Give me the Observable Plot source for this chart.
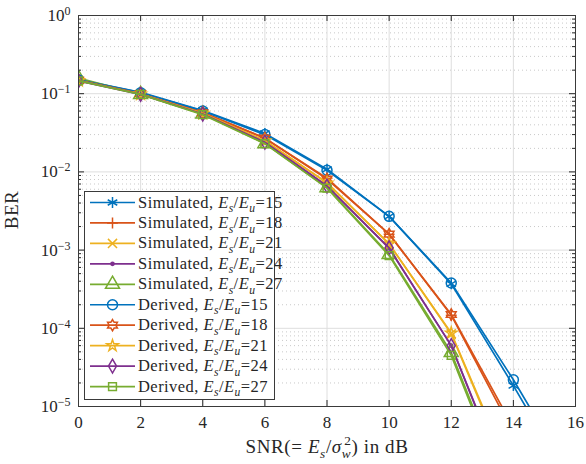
<!DOCTYPE html>
<html><head><meta charset="utf-8">
<script src="https://cdn.jsdelivr.net/npm/d3@7"></script>
<script src="https://cdn.jsdelivr.net/npm/@observablehq/plot@0.6"></script>
<style>
body{margin:0;background:#fff;}
#wrap{width:586px;height:464px;}
</style></head><body><div id="wrap"></div>
<script>
// ---- data ----
const snr = [0, 2, 4, 6, 8, 10, 12, 14, 16];
const esEu = [15, 18, 21, 24, 27];
const sim15 = [0.152, 0.104, 0.061, 0.031, 0.0108, 0.0027, 3.7e-4, 1.85e-5, 8e-7];
const sim18 = [0.149, 0.101, 0.058, 0.027, 0.0083, 0.0016, 1.47e-4, 4.6e-6];
const sim21 = [0.148, 0.100, 0.056, 0.025, 0.0073, 0.0012, 8.5e-5, 1.1e-6];
const sim24 = [0.147, 0.099, 0.055, 0.024, 0.0066, 0.00105, 6.0e-5, 6.0e-7];
const sim27 = [0.158, 0.098, 0.055, 0.023, 0.0063, 0.00088, 4.9e-5, 5.0e-7];
const der15 = [0.150, 0.103, 0.060, 0.030, 0.0105, 0.0027, 3.8e-4, 2.2e-5, 1.0e-6];
const der18 = [0.148, 0.100, 0.057, 0.027, 0.0081, 0.0016, 1.5e-4, 5.4e-6];
const der21 = [0.147, 0.099, 0.056, 0.025, 0.0072, 0.0012, 8.7e-5, 1.2e-6];
const der24 = [0.146, 0.098, 0.055, 0.024, 0.0066, 0.00107, 6.0e-5, 6.5e-7];
const der27 = [0.146, 0.098, 0.054, 0.023, 0.0062, 0.00085, 4.5e-5, 4.5e-7];
const xTicks = [0, 2, 4, 6, 8, 10, 12, 14, 16];
const yTicks = [1e-5, 1e-4, 1e-3, 1e-2, 1e-1, 1];
const yMinor = yTicks.slice(0, -1).flatMap(d => [2,3,4,5,6,7,8,9].map(m => m * d));
const colors = ["#0072BD", "#D95319", "#EDB120", "#7E2F8E", "#77AC30"];

// ---- marker shapes ----
const hexagram = {draw(ctx, size) {
  const R = Math.sqrt(size) * 0.64, r = R / Math.sqrt(3);
  for (let i = 0; i < 12; i++) {
    const a = -Math.PI / 2 + i * Math.PI / 6, rr = i % 2 ? r : R;
    const x = rr * Math.cos(a), y = rr * Math.sin(a);
    i ? ctx.lineTo(x, y) : ctx.moveTo(x, y);
  }
  ctx.closePath();
}};

const series = [
  {kind: "Simulated", k: 0, values: sim15, symbol: d3.symbolAsterisk, r: 5.2, fill: "none"},
  {kind: "Simulated", k: 1, values: sim18, symbol: d3.symbolPlus, r: 3.6, fill: "none"},
  {kind: "Simulated", k: 2, values: sim21, symbol: d3.symbolTimes, r: 4.2, fill: "none"},
  {kind: "Simulated", k: 3, values: sim24, symbol: d3.symbolCircle, r: 1.6, fill: "fill"},
  {kind: "Simulated", k: 4, values: sim27, symbol: d3.symbolTriangle, r: 5.2, fill: "none"},
  {kind: "Derived", k: 0, values: der15, symbol: d3.symbolCircle, r: 5, fill: "none"},
  {kind: "Derived", k: 1, values: der18, symbol: hexagram, r: 5, fill: "none"},
  {kind: "Derived", k: 2, values: der21, symbol: d3.symbolStar, r: 3.6, fill: "none"},
  {kind: "Derived", k: 3, values: der24, symbol: d3.symbolDiamond, r: 4.2, fill: "none"},
  {kind: "Derived", k: 4, values: der27, symbol: d3.symbolSquare, r: 4.4, fill: "none"},
];

const W = 586, H = 464, mt = 15, mr = 11, mb = 58, ml = 78;
const innerH = H - mt - mb, innerW = W - ml - mr;
const ink = "#262626";

const marks = [
  Plot.ruleY(yMinor, {y: d => d, stroke: "#c9c9c9", strokeDasharray: "1,3", strokeWidth: 1}),
  Plot.gridX(xTicks, {stroke: "#dedede", strokeOpacity: 1, strokeWidth: 1}),
  Plot.gridY(yTicks, {stroke: "#dedede", strokeOpacity: 1, strokeWidth: 1}),
];
for (const s of series) {
  const data = s.values.map((v, i) => ({x: snr[i], y: v}));
  const c = colors[s.k];
  marks.push(Plot.line(data, {x: "x", y: "y", stroke: c, strokeWidth: 1.7, clip: true}));
  marks.push(Plot.dot(data, {x: "x", y: "y", symbol: s.symbol, r: s.r, stroke: c,
    fill: s.fill === "fill" ? c : "none", strokeWidth: 1.5, clip: true}));
}
marks.push(
  Plot.ruleX(xTicks, {x: d => d, insetTop: innerH - 6, stroke: ink}),
  Plot.ruleX(xTicks, {x: d => d, insetBottom: innerH - 6, stroke: ink}),
  Plot.ruleY(yTicks, {y: d => d, insetRight: innerW - 6, stroke: ink}),
  Plot.ruleY(yTicks, {y: d => d, insetLeft: innerW - 6, stroke: ink}),
  Plot.ruleY(yMinor, {y: d => d, insetRight: innerW - 3, stroke: ink}),
  Plot.ruleY(yMinor, {y: d => d, insetLeft: innerW - 3, stroke: ink}),
  Plot.frame({stroke: "#3a3a3a", strokeWidth: 1}),
  Plot.axisX(xTicks, {tickSize: 0, tickPadding: 9, label: null, fontSize: 17}),
  Plot.axisY(yTicks, {tickSize: 0, tickPadding: 8, label: null, fontSize: 17,
    tickFormat: d => String(Math.round(Math.log10(d)))})
);

const svg = Plot.plot({
  width: W, height: H, marginTop: mt, marginRight: mr, marginBottom: mb, marginLeft: ml,
  x: {domain: [0, 16]},
  y: {type: "log", domain: [1e-5, 1]},
  style: {fontFamily: "'Liberation Serif', serif", color: ink, background: "#fff", overflow: "visible"},
  marks
});
document.getElementById("wrap").append(svg);

// ---- rich text helper ----
function rich(sel, parts, fs) {
  let shift = 0;
  for (const p of parts) {
    const t = sel.append("tspan").text(p.t);
    if (p.i) t.attr("font-style", "italic");
    const target = p.sub ? 0.28 * fs : p.sup ? -0.42 * fs : 0;
    if (target !== shift) { t.attr("dy", target - shift); shift = target; }
    if (p.sub || p.sup) t.attr("font-size", (0.7 * fs) + "px");
    if (p.dx) t.attr("dx", p.dx);
  }
}

// y tick labels -> 10^k
d3.select(svg).selectAll('[aria-label="y-axis tick label"] text').each(function() {
  const e = this.textContent.replace("-", "\u2212");
  const t = d3.select(this);
  t.text("");
  t.append("tspan").text("10");
  t.append("tspan").attr("dy", "-0.5em").attr("font-size", "12px").text(e);
});

const root = d3.select(svg);
// axis labels
root.append("text").attr("transform", "translate(18,210) rotate(-90)")
  .attr("text-anchor", "middle").attr("font-size", 19).attr("letter-spacing", 0.5)
  .attr("fill", ink).text("BER");
const xl = root.append("text").attr("x", 327).attr("y", 453)
  .attr("text-anchor", "middle").attr("font-size", 19).attr("letter-spacing", 0.6).attr("fill", ink);
rich(xl, [
  {t: "SNR(= "}, {t: "E", i: 1}, {t: "s", i: 1, sub: 1}, {t: "/"}, {t: "\u03c3", i: 1},
  {t: "w", i: 1, sub: 1}, {t: "2", sup: 1, dx: -7}, {t: ") in dB"}
], 19);

// legend
const lg = root.append("g").attr("text-anchor", "start");
lg.append("rect").attr("x", 84.5).attr("y", 191.5).attr("width", 190).attr("height", 208)
  .attr("fill", "#fff").attr("stroke", "#3a3a3a").attr("stroke-width", 1);
series.forEach((s, i) => {
  const cy = 202.5 + i * 20.45, c = colors[s.k];
  const g = lg.append("g");
  g.append("line").attr("x1", 90).attr("x2", 135).attr("y1", cy).attr("y2", cy)
    .attr("stroke", c).attr("stroke-width", 1.7);
  g.append("path").attr("transform", `translate(112.5,${cy})`)
    .attr("d", d3.symbol(s.symbol, Math.PI * s.r * s.r)())
    .attr("fill", s.fill === "fill" ? c : "none").attr("stroke", c).attr("stroke-width", 1.5);
  const t = g.append("text").attr("x", 138).attr("y", cy + 5).attr("font-size", 16.5)
    .attr("letter-spacing", 0.45).attr("fill", ink).attr("text-anchor", "start");
  rich(t, [{t: s.kind + ", "}, {t: "E", i: 1}, {t: "s", i: 1, sub: 1}, {t: "/"}, {t: "E", i: 1},
    {t: "u", i: 1, sub: 1}, {t: "=" + esEu[s.k]}], 16.5);
});
</script></body></html>
